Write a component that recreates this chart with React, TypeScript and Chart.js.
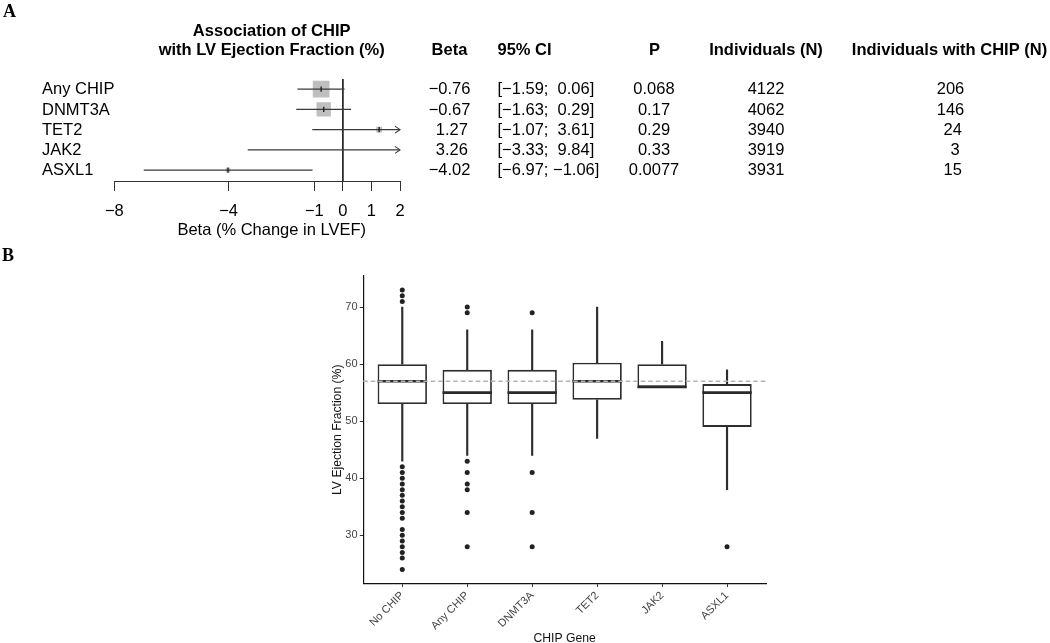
import React, { useEffect, useRef } from 'react';
import { Chart, registerables } from 'chart.js';

Chart.register(...registerables);
Chart.defaults.font.family = '"Liberation Sans", Arial, sans-serif';

// ---------- Panel A data (forest plot) ----------
const genes = ['Any CHIP', 'DNMT3A', 'TET2', 'JAK2', 'ASXL1'];
const betas = [-0.76, -0.67, 1.27, 3.26, -4.02];
const ciLow = [-1.59, -1.63, -1.07, -3.33, -6.97];
const ciHigh = [0.06, 0.29, 3.61, 9.84, -1.06];
const pValues = [0.068, 0.17, 0.29, 0.33, 0.0077];
const individualsN = [4122, 4062, 3940, 3919, 3931];
const chipN = [206, 146, 24, 3, 15];
const forestTicks = [-8, -4, -1, 0, 1, 2];
const forestMin = -8;
const forestMax = 2;

// ---------- Panel B data (box plot) ----------
const boxCategories = ['No CHIP', 'Any CHIP', 'DNMT3A', 'TET2', 'JAK2', 'ASXL1'];
const boxQ1 = [53, 53, 53, 53.75, 56, 49];
const boxMedian = [57, 55, 55, 57, 56, 55];
const boxQ3 = [60, 59, 59, 60.25, 60, 56.5];
const whiskerLow = [43, 44, 44, 47, 56, 38];
const whiskerHigh = [70, 66, 66, 70, 64, 59];
const outliersNoChip = [73, 72, 71, 42, 41, 40, 39, 38, 37, 36, 35, 34, 33, 31, 30, 29, 28, 27, 26, 24];
const outliersAnyChip = [70, 69, 43, 41, 39, 38, 34, 28];
const outliersDnmt3a = [69, 41, 34, 28];
const outliersTet2: number[] = [];
const outliersJak2: number[] = [];
const outliersAsxl1 = [28];
const outlierValues = [outliersNoChip, outliersAnyChip, outliersDnmt3a, outliersTet2, outliersJak2, outliersAsxl1];
const referenceEF = 57;
const efTicks = [30, 40, 50, 60, 70];
const efMin = 21.55;
const efMax = 75.45;

// ---------- helpers ----------
const MINUS = '\u2212';
const fmtSigned = (v: number) => (v < 0 ? MINUS : ' ') + Math.abs(v).toFixed(2);
const fmtTick = (v: number) => (v < 0 ? MINUS + Math.abs(v) : String(v));
const FS = 16.5;
const SANS = '"Liberation Sans", Arial, sans-serif';

// square size proportional to sqrt of inverse-variance weight
const weights = ciLow.map((lo, i) => {
  const se = (ciHigh[i] - lo) / (2 * 1.96);
  return 1 / (se * se);
});
const wMax = Math.max(...weights);
const squareSide = weights.map((w) => 16.7 * Math.sqrt(w / wMax));

const forestPlugin = {
  id: 'forestText',
  afterDraw(chart: any) {
    const { ctx, scales } = chart;
    const x = scales.x;
    const y = scales.y;
    ctx.save();
    // arrow heads for CIs beyond the axis
    ctx.strokeStyle = '#3a3a3a';
    ctx.lineWidth = 1.1;
    genes.forEach((_, i) => {
      if (ciHigh[i] > forestMax) {
        const px = x.getPixelForValue(forestMax);
        const py = y.getPixelForValue(i);
        ctx.beginPath();
        ctx.moveTo(px - 5, py - 3.5);
        ctx.lineTo(px, py);
        ctx.lineTo(px - 5, py + 3.5);
        ctx.stroke();
      }
    });

    ctx.fillStyle = '#000';
    // panel letter
    ctx.font = 'bold 18px "Liberation Serif", serif';
    ctx.textAlign = 'left';
    ctx.textBaseline = 'alphabetic';
    ctx.fillText('A', 3, 17);

    ctx.textBaseline = 'middle';
    // title
    ctx.font = `bold ${FS}px ${SANS}`;
    ctx.textAlign = 'center';
    ctx.fillText('Association of CHIP', 271.7, 31.7);
    ctx.fillText('with LV Ejection Fraction (%)', 271.7, 50);
    // headers
    const hy = 50;
    ctx.fillText('Beta', 449.5, hy);
    ctx.textAlign = 'left';
    ctx.fillText('95% CI', 497.5, hy);
    ctx.textAlign = 'center';
    ctx.fillText('P', 654.5, hy);
    ctx.fillText('Individuals (N)', 766, hy);
    ctx.fillText('Individuals with CHIP (N)', 949.5, hy);

    // rows
    ctx.font = `${FS}px ${SANS}`;
    genes.forEach((g, i) => {
      const py = y.getPixelForValue(i) + 0.6;
      ctx.textAlign = 'left';
      ctx.fillText(g, 42, py);
      ctx.textAlign = 'center';
      ctx.fillText(fmtSigned(betas[i]), 449.5, py);
      ctx.textAlign = 'left';
      ctx.fillText(`[${fmtSigned(ciLow[i])};${fmtSigned(ciHigh[i])}]`.replace(';', '; '), 497.5, py);
      ctx.textAlign = 'center';
      ctx.fillText(pValues[i].toPrecision(2), 654, py);
      ctx.fillText(String(individualsN[i]), 766, py);
      ctx.fillText(String(chipN[i]).padStart(3, ' '), 950.5, py);
    });

    // x-axis title
    ctx.textAlign = 'center';
    ctx.fillText('Beta (% Change in LVEF)', 271.7, 230);
    ctx.restore();
  },
};

const boxPlugin = {
  id: 'boxExtras',
  afterDatasetsDraw(chart: any) {
    const { ctx, scales, chartArea } = chart;
    const y = scales.y;
    const boxMeta = chart.getDatasetMeta(1);
    ctx.save();
    // medians
    ctx.strokeStyle = '#2a2a2a';
    ctx.lineWidth = 2.6;
    boxMedian.forEach((m, i) => {
      const el = boxMeta.data[i];
      if (!el) return;
      const py = y.getPixelForValue(m);
      ctx.beginPath();
      ctx.moveTo(el.x - el.width / 2, py);
      ctx.lineTo(el.x + el.width / 2, py);
      ctx.stroke();
    });
    // reference dashed line
    const ry = y.getPixelForValue(referenceEF);
    ctx.strokeStyle = '#b3b3b3';
    ctx.lineWidth = 1.3;
    ctx.setLineDash([4.5, 3]);
    ctx.beginPath();
    ctx.moveTo(chartArea.left, ry);
    ctx.lineTo(chartArea.right, ry);
    ctx.stroke();
    ctx.restore();
  },
  afterDraw(chart: any) {
    const { ctx } = chart;
    ctx.save();
    ctx.fillStyle = '#000';
    ctx.font = 'bold 18px "Liberation Serif", serif';
    ctx.textAlign = 'left';
    ctx.textBaseline = 'alphabetic';
    ctx.fillText('B', 2, 21);
    ctx.restore();
  },
};

export default function App() {
  const aRef = useRef<HTMLCanvasElement>(null);
  const bRef = useRef<HTMLCanvasElement>(null);

  useEffect(() => {
    const rowData = (vals: number[]) => vals.map((v, i) => ({ x: v, y: i }));

    const chartA = new Chart(aRef.current as HTMLCanvasElement, {
      type: 'scatter',
      data: {
        datasets: [
          {
            type: 'scatter',
            label: 'estimate',
            data: rowData(betas),
            pointStyle: 'line',
            rotation: 90,
            pointRadius: 2.6,
            borderColor: '#222',
            borderWidth: 1.4,
            backgroundColor: '#222',
          } as any,
          ...genes.map(
            (g, i) =>
              ({
                type: 'line',
                label: g + ' CI',
                data: [
                  { x: ciLow[i], y: i },
                  { x: ciHigh[i], y: i },
                ],
                borderColor: '#3a3a3a',
                borderWidth: 1.1,
                pointRadius: 0,
                fill: false,
              }) as any
          ),
          {
            type: 'scatter',
            label: 'weight',
            data: rowData(betas),
            pointStyle: 'rect',
            pointRadius: squareSide.map((s) => s / Math.SQRT2),
            backgroundColor: '#bfbfbf',
            borderWidth: 0,
          } as any,
          {
            type: 'line',
            label: 'no effect',
            data: [
              { x: 0, y: -0.5 },
              { x: 0, y: 4.537 },
            ],
            borderColor: '#222',
            borderWidth: 1,
            pointRadius: 0,
          } as any,
        ],
      },
      options: {
        responsive: false,
        animation: false,
        events: [],
        layout: { padding: { left: 114.3, right: 650, top: 79, bottom: 9 } },
        plugins: { legend: { display: false }, tooltip: { enabled: false } },
        scales: {
          x: {
            type: 'linear',
            min: forestMin,
            max: forestMax,
            afterBuildTicks: (s: any) => {
              s.ticks = forestTicks.map((v) => ({ value: v }));
            },
            afterFit: (s: any) => {
              s.height = 60;
            },
            grid: { drawOnChartArea: false, drawTicks: true, tickLength: 10, color: '#333', lineWidth: 1 },
            border: { display: true, color: '#333', width: 1 },
            ticks: {
              font: { size: FS, family: SANS },
              color: '#000',
              padding: 10.8,
              maxRotation: 0,
              autoSkip: false,
              callback: (v: any) => fmtTick(Number(v)),
            },
          },
          y: { type: 'linear', display: false, min: -0.5, max: 4.537, reverse: true },
        },
      },
      plugins: [forestPlugin],
    } as any);

    const outlierPoints = outlierValues.flatMap((vals, i) => vals.map((v) => ({ x: i, y: v })));

    const chartB = new Chart(bRef.current as HTMLCanvasElement, {
      type: 'bar',
      data: {
        datasets: [
          {
            type: 'scatter',
            label: 'outliers',
            data: outlierPoints,
            pointRadius: 2.5,
            backgroundColor: '#222',
            borderWidth: 0,
          } as any,
          {
            type: 'bar',
            label: 'IQR',
            data: boxCategories.map((_, i) => ({ x: i, y: [boxQ1[i], boxQ3[i]] })),
            backgroundColor: '#ffffff',
            borderColor: '#2e2e2e',
            borderWidth: 1.8,
            borderSkipped: false,
            grouped: false,
            categoryPercentage: 1,
            barPercentage: 0.76,
          } as any,
          {
            type: 'bar',
            label: 'upper whisker',
            data: boxCategories.map((_, i) => ({ x: i, y: [boxQ3[i], whiskerHigh[i]] })),
            backgroundColor: '#2e2e2e',
            borderWidth: 0,
            grouped: false,
            barThickness: 1.5,
          } as any,
          {
            type: 'bar',
            label: 'lower whisker',
            data: boxCategories.map((_, i) => ({ x: i, y: [whiskerLow[i], boxQ1[i]] })),
            backgroundColor: '#2e2e2e',
            borderWidth: 0,
            grouped: false,
            barThickness: 1.5,
          } as any,
        ],
      },
      options: {
        responsive: false,
        animation: false,
        events: [],
        layout: { padding: { left: 330, right: 284, top: 36, bottom: 14.2 } },
        plugins: { legend: { display: false }, tooltip: { enabled: false } },
        scales: {
          x: {
            type: 'linear',
            min: -0.6,
            max: boxCategories.length - 0.4,
            offset: false,
            afterBuildTicks: (s: any) => {
              s.ticks = boxCategories.map((_, i) => ({ value: i }));
            },
            afterFit: (s: any) => {
              s.height = 62.3;
            },
            grid: { drawOnChartArea: false, drawTicks: true, tickLength: 3.5, color: '#333', offset: false },
            border: { display: true, color: '#111', width: 1.2 },
            ticks: {
              font: { size: 11, family: SANS },
              color: '#444',
              padding: 2,
              minRotation: 45,
              maxRotation: 45,
              autoSkip: false,
              callback: (v: any) => boxCategories[Math.round(Number(v))] ?? '',
            },
            title: {
              display: true,
              text: 'CHIP Gene',
              color: '#111',
              font: { size: 12.2, family: SANS },
              padding: { top: 0, bottom: 0 },
            },
          },
          y: {
            type: 'linear',
            min: efMin,
            max: efMax,
            afterBuildTicks: (s: any) => {
              s.ticks = efTicks.map((v) => ({ value: v }));
            },
            afterFit: (s: any) => {
              s.width = 33.3;
            },
            grid: { drawOnChartArea: false, drawTicks: true, tickLength: 3.5, color: '#333' },
            border: { display: true, color: '#111', width: 1.2 },
            ticks: {
              font: { size: 11, family: SANS },
              color: '#444',
              padding: 2.2,
            },
            title: {
              display: true,
              text: 'LV Ejection Fraction (%)',
              color: '#111',
              font: { size: 12.2, family: SANS },
              padding: { top: 0.4, bottom: 0 },
            },
          },
        },
      },
      plugins: [boxPlugin],
    } as any);

    return () => {
      chartA.destroy();
      chartB.destroy();
    };
  }, []);

  return (
    <div
      style={{
        position: 'absolute',
        left: 0,
        top: 0,
        width: 1050,
        height: 643,
        overflow: 'hidden',
        background: '#ffffff',
      }}
    >
      <canvas
        ref={aRef}
        width={1050}
        height={250}
        style={{ position: 'absolute', left: 0, top: 0, width: 1050, height: 250 }}
      />
      <canvas
        ref={bRef}
        width={1050}
        height={420}
        style={{ position: 'absolute', left: 0, top: 240, width: 1050, height: 420 }}
      />
    </div>
  );
}
